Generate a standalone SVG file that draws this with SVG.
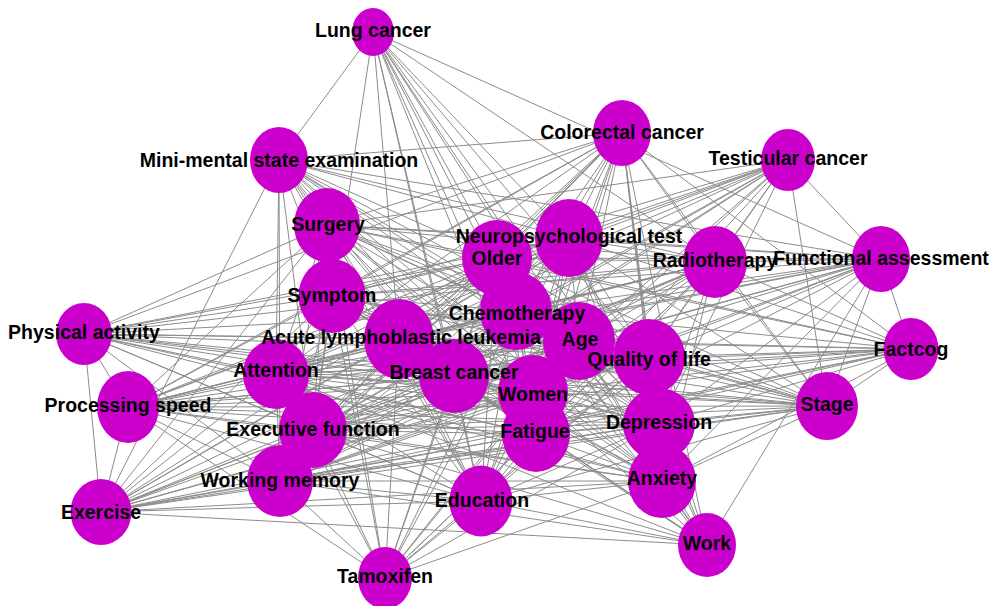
<svg xmlns="http://www.w3.org/2000/svg" width="993" height="606" viewBox="0 0 993 606">
<style>
.e line{stroke:#8c8c8c;stroke-width:1;fill:none}
.n ellipse{fill:#cc00cc;stroke:none}
.l text{font-family:"Liberation Sans",Arial,sans-serif;font-weight:bold;font-size:19.5px;fill:#000;text-anchor:middle}
</style>
<rect width="993" height="606" fill="#fff"/>
<g id="edges" class="e">
<line x1="373" y1="32" x2="279" y2="160"/><line x1="373" y1="32" x2="313" y2="430"/><line x1="373" y1="32" x2="399" y2="339"/><line x1="373" y1="32" x2="569" y2="238"/><line x1="373" y1="32" x2="497" y2="258"/><line x1="373" y1="32" x2="516" y2="311"/><line x1="373" y1="32" x2="579" y2="341"/><line x1="373" y1="32" x2="649" y2="357"/><line x1="373" y1="32" x2="454" y2="376"/><line x1="373" y1="32" x2="533" y2="392"/><line x1="373" y1="32" x2="536" y2="434"/><line x1="373" y1="32" x2="659" y2="424"/><line x1="373" y1="32" x2="662" y2="481"/><line x1="373" y1="32" x2="881" y2="259"/><line x1="373" y1="32" x2="481" y2="501"/><line x1="373" y1="32" x2="715" y2="262"/>
<line x1="279" y1="160" x2="327" y2="225"/><line x1="279" y1="160" x2="332" y2="296"/><line x1="279" y1="160" x2="276" y2="374"/><line x1="279" y1="160" x2="313" y2="430"/><line x1="279" y1="160" x2="280" y2="481"/><line x1="279" y1="160" x2="101" y2="512"/><line x1="279" y1="160" x2="399" y2="339"/><line x1="279" y1="160" x2="454" y2="376"/><line x1="279" y1="160" x2="516" y2="311"/><line x1="279" y1="160" x2="497" y2="258"/><line x1="279" y1="160" x2="569" y2="238"/><line x1="279" y1="160" x2="579" y2="341"/><line x1="279" y1="160" x2="649" y2="357"/><line x1="279" y1="160" x2="533" y2="392"/><line x1="279" y1="160" x2="536" y2="434"/><line x1="279" y1="160" x2="659" y2="424"/><line x1="279" y1="160" x2="662" y2="481"/><line x1="279" y1="160" x2="622" y2="133"/><line x1="279" y1="160" x2="715" y2="262"/><line x1="279" y1="160" x2="481" y2="501"/><line x1="279" y1="160" x2="881" y2="259"/>
<line x1="327" y1="225" x2="332" y2="296"/><line x1="327" y1="225" x2="276" y2="374"/><line x1="327" y1="225" x2="313" y2="430"/><line x1="327" y1="225" x2="280" y2="481"/><line x1="327" y1="225" x2="128" y2="407"/><line x1="327" y1="225" x2="84" y2="334"/><line x1="327" y1="225" x2="101" y2="512"/><line x1="327" y1="225" x2="399" y2="339"/><line x1="327" y1="225" x2="454" y2="376"/><line x1="327" y1="225" x2="516" y2="311"/><line x1="327" y1="225" x2="497" y2="258"/><line x1="327" y1="225" x2="569" y2="238"/><line x1="327" y1="225" x2="579" y2="341"/><line x1="327" y1="225" x2="649" y2="357"/><line x1="327" y1="225" x2="533" y2="392"/><line x1="327" y1="225" x2="536" y2="434"/><line x1="327" y1="225" x2="659" y2="424"/><line x1="327" y1="225" x2="662" y2="481"/><line x1="327" y1="225" x2="622" y2="133"/><line x1="327" y1="225" x2="788" y2="160"/><line x1="327" y1="225" x2="715" y2="262"/><line x1="327" y1="225" x2="881" y2="259"/><line x1="327" y1="225" x2="481" y2="501"/><line x1="327" y1="225" x2="385" y2="578"/><line x1="327" y1="225" x2="827" y2="406"/><line x1="327" y1="225" x2="911" y2="349"/>
<line x1="332" y1="296" x2="276" y2="374"/><line x1="332" y1="296" x2="313" y2="430"/><line x1="332" y1="296" x2="280" y2="481"/><line x1="332" y1="296" x2="128" y2="407"/><line x1="332" y1="296" x2="84" y2="334"/><line x1="332" y1="296" x2="101" y2="512"/><line x1="332" y1="296" x2="399" y2="339"/><line x1="332" y1="296" x2="454" y2="376"/><line x1="332" y1="296" x2="516" y2="311"/><line x1="332" y1="296" x2="497" y2="258"/><line x1="332" y1="296" x2="569" y2="238"/><line x1="332" y1="296" x2="579" y2="341"/><line x1="332" y1="296" x2="649" y2="357"/><line x1="332" y1="296" x2="533" y2="392"/><line x1="332" y1="296" x2="536" y2="434"/><line x1="332" y1="296" x2="659" y2="424"/><line x1="332" y1="296" x2="662" y2="481"/><line x1="332" y1="296" x2="622" y2="133"/><line x1="332" y1="296" x2="788" y2="160"/><line x1="332" y1="296" x2="715" y2="262"/><line x1="332" y1="296" x2="881" y2="259"/><line x1="332" y1="296" x2="481" y2="501"/><line x1="332" y1="296" x2="385" y2="578"/><line x1="332" y1="296" x2="827" y2="406"/><line x1="332" y1="296" x2="707" y2="545"/>
<line x1="622" y1="133" x2="497" y2="258"/><line x1="622" y1="133" x2="569" y2="238"/><line x1="622" y1="133" x2="516" y2="311"/><line x1="622" y1="133" x2="579" y2="341"/><line x1="622" y1="133" x2="649" y2="357"/><line x1="622" y1="133" x2="454" y2="376"/><line x1="622" y1="133" x2="533" y2="392"/><line x1="622" y1="133" x2="536" y2="434"/><line x1="622" y1="133" x2="659" y2="424"/><line x1="622" y1="133" x2="662" y2="481"/><line x1="622" y1="133" x2="481" y2="501"/><line x1="622" y1="133" x2="715" y2="262"/><line x1="622" y1="133" x2="276" y2="374"/><line x1="622" y1="133" x2="313" y2="430"/><line x1="622" y1="133" x2="280" y2="481"/><line x1="622" y1="133" x2="399" y2="339"/><line x1="622" y1="133" x2="827" y2="406"/><line x1="622" y1="133" x2="707" y2="545"/><line x1="622" y1="133" x2="911" y2="349"/><line x1="622" y1="133" x2="84" y2="334"/><line x1="622" y1="133" x2="128" y2="407"/>
<line x1="788" y1="160" x2="569" y2="238"/><line x1="788" y1="160" x2="497" y2="258"/><line x1="788" y1="160" x2="516" y2="311"/><line x1="788" y1="160" x2="579" y2="341"/><line x1="788" y1="160" x2="649" y2="357"/><line x1="788" y1="160" x2="454" y2="376"/><line x1="788" y1="160" x2="533" y2="392"/><line x1="788" y1="160" x2="536" y2="434"/><line x1="788" y1="160" x2="659" y2="424"/><line x1="788" y1="160" x2="276" y2="374"/><line x1="788" y1="160" x2="313" y2="430"/><line x1="788" y1="160" x2="827" y2="406"/><line x1="788" y1="160" x2="399" y2="339"/><line x1="788" y1="160" x2="715" y2="262"/><line x1="788" y1="160" x2="280" y2="481"/><line x1="788" y1="160" x2="128" y2="407"/><line x1="788" y1="160" x2="881" y2="259"/>
<line x1="569" y1="238" x2="497" y2="258"/><line x1="569" y1="238" x2="516" y2="311"/><line x1="569" y1="238" x2="579" y2="341"/><line x1="569" y1="238" x2="649" y2="357"/><line x1="569" y1="238" x2="454" y2="376"/><line x1="569" y1="238" x2="533" y2="392"/><line x1="569" y1="238" x2="536" y2="434"/><line x1="569" y1="238" x2="659" y2="424"/><line x1="569" y1="238" x2="662" y2="481"/><line x1="569" y1="238" x2="276" y2="374"/><line x1="569" y1="238" x2="313" y2="430"/><line x1="569" y1="238" x2="280" y2="481"/><line x1="569" y1="238" x2="399" y2="339"/><line x1="569" y1="238" x2="128" y2="407"/><line x1="569" y1="238" x2="84" y2="334"/><line x1="569" y1="238" x2="101" y2="512"/><line x1="569" y1="238" x2="715" y2="262"/><line x1="569" y1="238" x2="481" y2="501"/><line x1="569" y1="238" x2="385" y2="578"/><line x1="569" y1="238" x2="827" y2="406"/><line x1="569" y1="238" x2="881" y2="259"/><line x1="569" y1="238" x2="911" y2="349"/><line x1="569" y1="238" x2="707" y2="545"/>
<line x1="497" y1="258" x2="516" y2="311"/><line x1="497" y1="258" x2="579" y2="341"/><line x1="497" y1="258" x2="649" y2="357"/><line x1="497" y1="258" x2="454" y2="376"/><line x1="497" y1="258" x2="533" y2="392"/><line x1="497" y1="258" x2="536" y2="434"/><line x1="497" y1="258" x2="659" y2="424"/><line x1="497" y1="258" x2="662" y2="481"/><line x1="497" y1="258" x2="276" y2="374"/><line x1="497" y1="258" x2="313" y2="430"/><line x1="497" y1="258" x2="280" y2="481"/><line x1="497" y1="258" x2="399" y2="339"/><line x1="497" y1="258" x2="128" y2="407"/><line x1="497" y1="258" x2="84" y2="334"/><line x1="497" y1="258" x2="101" y2="512"/><line x1="497" y1="258" x2="715" y2="262"/><line x1="497" y1="258" x2="481" y2="501"/><line x1="497" y1="258" x2="385" y2="578"/><line x1="497" y1="258" x2="827" y2="406"/><line x1="497" y1="258" x2="881" y2="259"/><line x1="497" y1="258" x2="911" y2="349"/><line x1="497" y1="258" x2="707" y2="545"/>
<line x1="715" y1="262" x2="516" y2="311"/><line x1="715" y1="262" x2="579" y2="341"/><line x1="715" y1="262" x2="649" y2="357"/><line x1="715" y1="262" x2="454" y2="376"/><line x1="715" y1="262" x2="533" y2="392"/><line x1="715" y1="262" x2="536" y2="434"/><line x1="715" y1="262" x2="659" y2="424"/><line x1="715" y1="262" x2="662" y2="481"/><line x1="715" y1="262" x2="276" y2="374"/><line x1="715" y1="262" x2="313" y2="430"/><line x1="715" y1="262" x2="280" y2="481"/><line x1="715" y1="262" x2="399" y2="339"/><line x1="715" y1="262" x2="128" y2="407"/><line x1="715" y1="262" x2="84" y2="334"/><line x1="715" y1="262" x2="101" y2="512"/><line x1="715" y1="262" x2="481" y2="501"/><line x1="715" y1="262" x2="827" y2="406"/><line x1="715" y1="262" x2="881" y2="259"/><line x1="715" y1="262" x2="911" y2="349"/><line x1="715" y1="262" x2="385" y2="578"/>
<line x1="881" y1="259" x2="399" y2="339"/><line x1="881" y1="259" x2="454" y2="376"/><line x1="881" y1="259" x2="516" y2="311"/><line x1="881" y1="259" x2="579" y2="341"/><line x1="881" y1="259" x2="649" y2="357"/><line x1="881" y1="259" x2="533" y2="392"/><line x1="881" y1="259" x2="536" y2="434"/><line x1="881" y1="259" x2="659" y2="424"/><line x1="881" y1="259" x2="662" y2="481"/><line x1="881" y1="259" x2="276" y2="374"/><line x1="881" y1="259" x2="313" y2="430"/><line x1="881" y1="259" x2="280" y2="481"/><line x1="881" y1="259" x2="911" y2="349"/><line x1="881" y1="259" x2="827" y2="406"/><line x1="881" y1="259" x2="707" y2="545"/><line x1="881" y1="259" x2="128" y2="407"/>
<line x1="911" y1="349" x2="649" y2="357"/><line x1="911" y1="349" x2="579" y2="341"/><line x1="911" y1="349" x2="659" y2="424"/><line x1="911" y1="349" x2="516" y2="311"/><line x1="911" y1="349" x2="454" y2="376"/><line x1="911" y1="349" x2="533" y2="392"/><line x1="911" y1="349" x2="536" y2="434"/><line x1="911" y1="349" x2="276" y2="374"/><line x1="911" y1="349" x2="313" y2="430"/><line x1="911" y1="349" x2="280" y2="481"/><line x1="911" y1="349" x2="662" y2="481"/><line x1="911" y1="349" x2="827" y2="406"/><line x1="911" y1="349" x2="399" y2="339"/><line x1="911" y1="349" x2="128" y2="407"/><line x1="911" y1="349" x2="101" y2="512"/>
<line x1="827" y1="406" x2="649" y2="357"/><line x1="827" y1="406" x2="579" y2="341"/><line x1="827" y1="406" x2="659" y2="424"/><line x1="827" y1="406" x2="516" y2="311"/><line x1="827" y1="406" x2="454" y2="376"/><line x1="827" y1="406" x2="533" y2="392"/><line x1="827" y1="406" x2="536" y2="434"/><line x1="827" y1="406" x2="276" y2="374"/><line x1="827" y1="406" x2="313" y2="430"/><line x1="827" y1="406" x2="280" y2="481"/><line x1="827" y1="406" x2="662" y2="481"/><line x1="827" y1="406" x2="399" y2="339"/><line x1="827" y1="406" x2="481" y2="501"/><line x1="827" y1="406" x2="128" y2="407"/><line x1="827" y1="406" x2="84" y2="334"/><line x1="827" y1="406" x2="101" y2="512"/>
<line x1="84" y1="334" x2="128" y2="407"/><line x1="84" y1="334" x2="101" y2="512"/><line x1="84" y1="334" x2="276" y2="374"/><line x1="84" y1="334" x2="313" y2="430"/><line x1="84" y1="334" x2="280" y2="481"/><line x1="84" y1="334" x2="399" y2="339"/><line x1="84" y1="334" x2="454" y2="376"/><line x1="84" y1="334" x2="516" y2="311"/><line x1="84" y1="334" x2="579" y2="341"/><line x1="84" y1="334" x2="649" y2="357"/><line x1="84" y1="334" x2="533" y2="392"/><line x1="84" y1="334" x2="536" y2="434"/><line x1="84" y1="334" x2="659" y2="424"/><line x1="84" y1="334" x2="662" y2="481"/><line x1="84" y1="334" x2="481" y2="501"/>
<line x1="128" y1="407" x2="101" y2="512"/><line x1="128" y1="407" x2="276" y2="374"/><line x1="128" y1="407" x2="313" y2="430"/><line x1="128" y1="407" x2="280" y2="481"/><line x1="128" y1="407" x2="399" y2="339"/><line x1="128" y1="407" x2="454" y2="376"/><line x1="128" y1="407" x2="516" y2="311"/><line x1="128" y1="407" x2="579" y2="341"/><line x1="128" y1="407" x2="649" y2="357"/><line x1="128" y1="407" x2="533" y2="392"/><line x1="128" y1="407" x2="536" y2="434"/><line x1="128" y1="407" x2="659" y2="424"/><line x1="128" y1="407" x2="662" y2="481"/><line x1="128" y1="407" x2="481" y2="501"/><line x1="128" y1="407" x2="385" y2="578"/>
<line x1="101" y1="512" x2="276" y2="374"/><line x1="101" y1="512" x2="313" y2="430"/><line x1="101" y1="512" x2="280" y2="481"/><line x1="101" y1="512" x2="399" y2="339"/><line x1="101" y1="512" x2="454" y2="376"/><line x1="101" y1="512" x2="516" y2="311"/><line x1="101" y1="512" x2="579" y2="341"/><line x1="101" y1="512" x2="649" y2="357"/><line x1="101" y1="512" x2="533" y2="392"/><line x1="101" y1="512" x2="536" y2="434"/><line x1="101" y1="512" x2="659" y2="424"/><line x1="101" y1="512" x2="662" y2="481"/><line x1="101" y1="512" x2="481" y2="501"/><line x1="101" y1="512" x2="707" y2="545"/>
<line x1="276" y1="374" x2="313" y2="430"/><line x1="276" y1="374" x2="280" y2="481"/><line x1="276" y1="374" x2="399" y2="339"/><line x1="276" y1="374" x2="454" y2="376"/><line x1="276" y1="374" x2="516" y2="311"/><line x1="276" y1="374" x2="579" y2="341"/><line x1="276" y1="374" x2="649" y2="357"/><line x1="276" y1="374" x2="533" y2="392"/><line x1="276" y1="374" x2="536" y2="434"/><line x1="276" y1="374" x2="659" y2="424"/><line x1="276" y1="374" x2="662" y2="481"/><line x1="276" y1="374" x2="481" y2="501"/><line x1="276" y1="374" x2="385" y2="578"/><line x1="276" y1="374" x2="707" y2="545"/>
<line x1="313" y1="430" x2="280" y2="481"/><line x1="313" y1="430" x2="399" y2="339"/><line x1="313" y1="430" x2="454" y2="376"/><line x1="313" y1="430" x2="516" y2="311"/><line x1="313" y1="430" x2="579" y2="341"/><line x1="313" y1="430" x2="649" y2="357"/><line x1="313" y1="430" x2="533" y2="392"/><line x1="313" y1="430" x2="536" y2="434"/><line x1="313" y1="430" x2="659" y2="424"/><line x1="313" y1="430" x2="662" y2="481"/><line x1="313" y1="430" x2="481" y2="501"/><line x1="313" y1="430" x2="385" y2="578"/><line x1="313" y1="430" x2="707" y2="545"/>
<line x1="280" y1="481" x2="399" y2="339"/><line x1="280" y1="481" x2="454" y2="376"/><line x1="280" y1="481" x2="516" y2="311"/><line x1="280" y1="481" x2="579" y2="341"/><line x1="280" y1="481" x2="649" y2="357"/><line x1="280" y1="481" x2="533" y2="392"/><line x1="280" y1="481" x2="536" y2="434"/><line x1="280" y1="481" x2="659" y2="424"/><line x1="280" y1="481" x2="662" y2="481"/><line x1="280" y1="481" x2="481" y2="501"/><line x1="280" y1="481" x2="385" y2="578"/><line x1="280" y1="481" x2="707" y2="545"/>
<line x1="399" y1="339" x2="454" y2="376"/><line x1="399" y1="339" x2="516" y2="311"/><line x1="399" y1="339" x2="579" y2="341"/><line x1="399" y1="339" x2="649" y2="357"/><line x1="399" y1="339" x2="533" y2="392"/><line x1="399" y1="339" x2="536" y2="434"/><line x1="399" y1="339" x2="659" y2="424"/><line x1="399" y1="339" x2="662" y2="481"/><line x1="399" y1="339" x2="481" y2="501"/><line x1="399" y1="339" x2="385" y2="578"/><line x1="399" y1="339" x2="707" y2="545"/>
<line x1="454" y1="376" x2="516" y2="311"/><line x1="454" y1="376" x2="579" y2="341"/><line x1="454" y1="376" x2="649" y2="357"/><line x1="454" y1="376" x2="533" y2="392"/><line x1="454" y1="376" x2="536" y2="434"/><line x1="454" y1="376" x2="659" y2="424"/><line x1="454" y1="376" x2="662" y2="481"/><line x1="454" y1="376" x2="481" y2="501"/><line x1="454" y1="376" x2="385" y2="578"/><line x1="454" y1="376" x2="707" y2="545"/>
<line x1="516" y1="311" x2="579" y2="341"/><line x1="516" y1="311" x2="649" y2="357"/><line x1="516" y1="311" x2="533" y2="392"/><line x1="516" y1="311" x2="536" y2="434"/><line x1="516" y1="311" x2="659" y2="424"/><line x1="516" y1="311" x2="662" y2="481"/><line x1="516" y1="311" x2="481" y2="501"/><line x1="516" y1="311" x2="385" y2="578"/><line x1="516" y1="311" x2="707" y2="545"/>
<line x1="579" y1="341" x2="649" y2="357"/><line x1="579" y1="341" x2="533" y2="392"/><line x1="579" y1="341" x2="536" y2="434"/><line x1="579" y1="341" x2="659" y2="424"/><line x1="579" y1="341" x2="662" y2="481"/><line x1="579" y1="341" x2="481" y2="501"/><line x1="579" y1="341" x2="385" y2="578"/><line x1="579" y1="341" x2="707" y2="545"/>
<line x1="649" y1="357" x2="533" y2="392"/><line x1="649" y1="357" x2="536" y2="434"/><line x1="649" y1="357" x2="659" y2="424"/><line x1="649" y1="357" x2="662" y2="481"/><line x1="649" y1="357" x2="481" y2="501"/><line x1="649" y1="357" x2="385" y2="578"/><line x1="649" y1="357" x2="707" y2="545"/>
<line x1="533" y1="392" x2="536" y2="434"/><line x1="533" y1="392" x2="659" y2="424"/><line x1="533" y1="392" x2="662" y2="481"/><line x1="533" y1="392" x2="481" y2="501"/><line x1="533" y1="392" x2="385" y2="578"/><line x1="533" y1="392" x2="707" y2="545"/>
<line x1="536" y1="434" x2="659" y2="424"/><line x1="536" y1="434" x2="662" y2="481"/><line x1="536" y1="434" x2="481" y2="501"/><line x1="536" y1="434" x2="385" y2="578"/><line x1="536" y1="434" x2="707" y2="545"/>
<line x1="659" y1="424" x2="662" y2="481"/><line x1="659" y1="424" x2="481" y2="501"/><line x1="659" y1="424" x2="385" y2="578"/><line x1="659" y1="424" x2="707" y2="545"/>
<line x1="662" y1="481" x2="481" y2="501"/><line x1="662" y1="481" x2="385" y2="578"/><line x1="662" y1="481" x2="707" y2="545"/>
<line x1="481" y1="501" x2="385" y2="578"/><line x1="481" y1="501" x2="707" y2="545"/>
</g>
<g id="nodes" class="n">
<g id="node-lung-cancer"><ellipse cx="373" cy="32" rx="21" ry="24"/></g>
<g id="node-mmse"><ellipse cx="279" cy="160" rx="29" ry="33"/></g>
<g id="node-surgery"><ellipse cx="327" cy="225" rx="33" ry="37"/></g>
<g id="node-symptom"><ellipse cx="332" cy="296" rx="33.5" ry="37"/></g>
<g id="node-colorectal-cancer"><ellipse cx="622" cy="133" rx="29" ry="33"/></g>
<g id="node-testicular-cancer"><ellipse cx="788" cy="160" rx="27" ry="31"/></g>
<g id="node-neuropsychological-test"><ellipse cx="569" cy="238" rx="34" ry="39"/></g>
<g id="node-older"><ellipse cx="497" cy="258" rx="35" ry="38"/></g>
<g id="node-radiotherapy"><ellipse cx="715" cy="262" rx="32" ry="36"/></g>
<g id="node-functional-assessment"><ellipse cx="881" cy="259" rx="29" ry="33"/></g>
<g id="node-factcog"><ellipse cx="911" cy="349" rx="27.5" ry="31"/></g>
<g id="node-stage"><ellipse cx="827" cy="406" rx="31" ry="34"/></g>
<g id="node-physical-activity"><ellipse cx="84" cy="334" rx="28" ry="31"/></g>
<g id="node-processing-speed"><ellipse cx="128" cy="407" rx="31" ry="36"/></g>
<g id="node-exercise"><ellipse cx="101" cy="512" rx="30.5" ry="33"/></g>
<g id="node-attention"><ellipse cx="276" cy="374" rx="33" ry="35"/></g>
<g id="node-executive-function"><ellipse cx="313" cy="430" rx="34" ry="38"/></g>
<g id="node-working-memory"><ellipse cx="280" cy="481" rx="33" ry="36"/></g>
<g id="node-acute-lymphoblastic-leukemia"><ellipse cx="399" cy="339" rx="35" ry="40"/></g>
<g id="node-breast-cancer"><ellipse cx="454" cy="376" rx="35" ry="37"/></g>
<g id="node-chemotherapy"><ellipse cx="516" cy="311" rx="36" ry="39"/></g>
<g id="node-age"><ellipse cx="579" cy="341" rx="36" ry="39"/></g>
<g id="node-quality-of-life"><ellipse cx="649" cy="357" rx="36" ry="38"/></g>
<g id="node-women"><ellipse cx="533" cy="392" rx="35" ry="37"/></g>
<g id="node-fatigue"><ellipse cx="536" cy="434" rx="34" ry="38"/></g>
<g id="node-depression"><ellipse cx="659" cy="424" rx="36" ry="36"/></g>
<g id="node-anxiety"><ellipse cx="662" cy="481" rx="34" ry="37"/></g>
<g id="node-work"><ellipse cx="707" cy="545" rx="29" ry="32"/></g>
<g id="node-education"><ellipse cx="481" cy="501" rx="31.5" ry="35.5"/></g>
<g id="node-tamoxifen"><ellipse cx="385" cy="578" rx="27" ry="31"/></g>
</g>
<g id="labels" class="l">
<text x="373" y="37">Lung cancer</text>
<text x="279" y="167">Mini-mental state examination</text>
<text x="328" y="231">Surgery</text>
<text x="332" y="302">Symptom</text>
<text x="622" y="139">Colorectal cancer</text>
<text x="788" y="165">Testicular cancer</text>
<text x="569" y="243">Neuropsychological test</text>
<text x="497" y="265">Older</text>
<text x="715" y="267">Radiotherapy</text>
<text x="881" y="265">Functional assessment</text>
<text x="911" y="356">Factcog</text>
<text x="827" y="411">Stage</text>
<text x="84" y="339">Physical activity</text>
<text x="128" y="412">Processing speed</text>
<text x="101" y="519">Exercise</text>
<text x="276" y="377">Attention</text>
<text x="313" y="436">Executive function</text>
<text x="280" y="487">Working memory</text>
<text x="401" y="344">Acute lymphoblastic leukemia</text>
<text x="454" y="379">Breast cancer</text>
<text x="517" y="320">Chemotherapy</text>
<text x="580" y="346">Age</text>
<text x="649" y="366">Quality of life</text>
<text x="533" y="401">Women</text>
<text x="535" y="438">Fatigue</text>
<text x="659" y="429">Depression</text>
<text x="662" y="485">Anxiety</text>
<text x="707" y="550">Work</text>
<text x="482" y="507">Education</text>
<text x="385" y="583">Tamoxifen</text>
</g>
</svg>
